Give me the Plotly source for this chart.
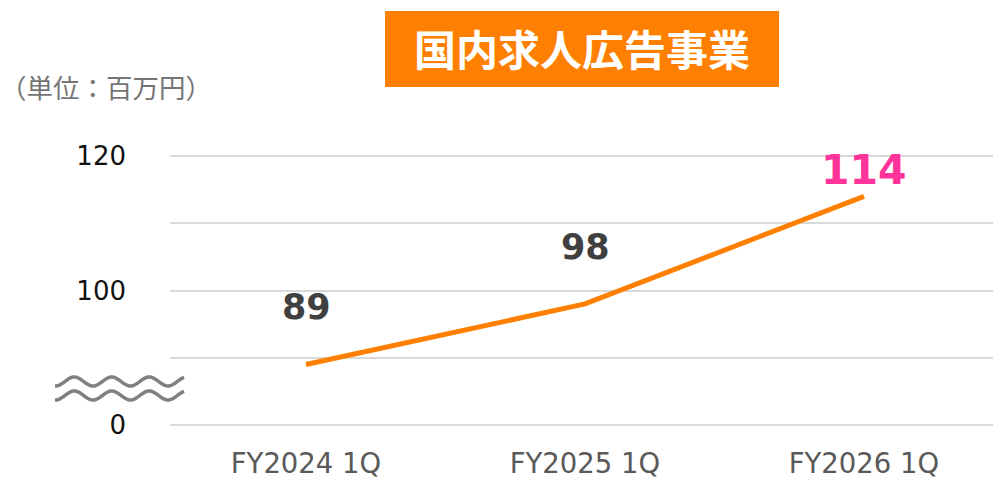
import numpy as np
import plotly.graph_objects as go

# ---- data ----
categories = ["FY2024 1Q", "FY2025 1Q", "FY2026 1Q"]
values = [89, 98, 114]
label_texts = ["89", "98", "114"]
ytick_vals = [80, 90, 100, 110, 120]
ytick_text = ["0", "", "100", "", "120"]
title_text = "国内求人広告事業"
unit_text = "（単位：百万円）"

# ---- layout geometry (pixels) ----
W, H = 993, 479
L, R, T, B = 170, 993, 154, 427
PW, PH = R - L, B - T


def px(x):
    return (x - L) / PW


def py(y):
    return (B - y) / PH


ORANGE = "#FF8000"
PINK = "#FF3399"
GRID = "#D9D9D9"

fig = go.Figure()
fig.add_trace(go.Scatter(
    x=categories, y=values, mode="lines",
    line=dict(color=ORANGE, width=5),
    hoverinfo="skip", showlegend=False,
))

# data labels
label_shift = [57, 57, 26]
label_colors = ["#404040", "#404040", PINK]
label_sizes = [35, 35, 41]
for c, v, t, s, col, fs in zip(categories, values, label_texts, label_shift, label_colors, label_sizes):
    fig.add_annotation(
        x=c, y=v, xref="x", yref="y", text=t, showarrow=False,
        yshift=s, xanchor="center", yanchor="middle",
        font=dict(family="DejaVu Sans", size=fs, color=col, weight="bold"),
    )

# title box
fig.add_shape(type="rect", xref="paper", yref="paper",
              x0=px(385), x1=px(779), y0=py(87), y1=py(11),
              fillcolor=ORANGE, line=dict(width=0), layer="above")
fig.add_annotation(
    x=px(582), y=py(47), xref="paper", yref="paper", text=title_text,
    showarrow=False, xanchor="center", yanchor="middle",
    font=dict(family="Noto Sans CJK JP", size=42, color="white", weight="bold"),
)

# unit label
fig.add_annotation(
    x=px(106), y=py(86), xref="paper", yref="paper", text=unit_text,
    showarrow=False, xanchor="center", yanchor="middle",
    font=dict(family="Noto Sans CJK JP", size=26.5, color="#757575"),
)

# axis break (wavy lines)
xs = np.linspace(55, 184, 80)
for cy in (381.5, 395.5):
    ys = cy + 4.5 * np.cos(2 * np.pi * (xs - 93) / 37.5)
    path = "M " + " L ".join(f"{px(a):.5f},{py(b):.5f}" for a, b in zip(xs, ys))
    fig.add_shape(type="path", xref="paper", yref="paper", path=path,
                  line=dict(color="#808080", width=3.5), layer="above")

fig.update_xaxes(
    range=[-0.4875, 2.4624], showgrid=False, showline=False, zeroline=False,
    tickfont=dict(family="DejaVu Sans", size=27.5, color="#595959"),
    ticks="", ticklabelstandoff=17, fixedrange=True,
)
fig.update_yaxes(
    range=[79.7, 120.3], tickvals=ytick_vals, ticktext=ytick_text,
    showgrid=True, gridcolor=GRID, gridwidth=2, zeroline=False, showline=False,
    tickfont=dict(family="DejaVu Sans", size=26, color="#111111"),
    ticks="", ticklabelstandoff=43, fixedrange=True,
)
fig.update_layout(
    width=W, height=H,
    margin=dict(l=L, r=W - R, t=T, b=H - B),
    plot_bgcolor="white", paper_bgcolor="white",
    showlegend=False,
)

fig.write_html("out.html",
               config={"displayModeBar": False, "staticPlot": True},
               post_script="document.body.style.margin='0px';document.body.style.overflow='hidden';")
